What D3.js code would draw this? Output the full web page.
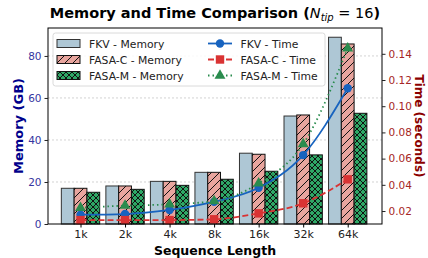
<!DOCTYPE html>
<html>
<head>
<meta charset="utf-8">
<script src="https://cdn.jsdelivr.net/npm/d3@7"></script>
<style>
  body { margin: 0; background: #fff; }
  svg { font-family: "DejaVu Sans", sans-serif; }
</style>
</head>
<body>
<svg id="chart" width="428" height="258"></svg>
<script>
// data
const categories = ["1k", "2k", "4k", "8k", "16k", "32k", "64k"];
const fkvMem   = [17.0, 18.1, 20.3, 24.6, 33.7, 51.4, 88.9];
const fasaCMem = [17.0, 18.1, 20.3, 24.6, 33.2, 51.9, 85.7];
const fasaMMem = [15.1, 16.5, 18.4, 21.3, 25.1, 32.9, 52.7];
const fkvTime   = [0.0172, 0.0177, 0.0208, 0.0271, 0.0378, 0.0627, 0.1137];
const fasaCTime = [0.0131, 0.0131, 0.0131, 0.0137, 0.0182, 0.0259, 0.0442];
const fasaMTime = [0.0225, 0.0241, 0.0251, 0.0276, 0.0411, 0.0711, 0.1442];
const memTicks  = [0, 20, 40, 60, 80];
const timeTicks = [0.02, 0.04, 0.06, 0.08, 0.10, 0.12, 0.14];

const pL = 48, pR = 382, pT = 28, pB = 224;
const svg = d3.select("#chart");

// hatch patterns
const defs = svg.append("defs");
const p1 = defs.append("pattern").attr("id", "hatchC")
  .attr("patternUnits", "userSpaceOnUse").attr("width", 8).attr("height", 8);
p1.append("rect").attr("width", 8).attr("height", 8).attr("fill", "#e8a59e");
p1.append("path").attr("d", "M0,8L8,0M-2,2L2,-2M6,10L10,6")
  .attr("stroke", "#111").attr("stroke-width", 1);
const p2 = defs.append("pattern").attr("id", "hatchM")
  .attr("patternUnits", "userSpaceOnUse").attr("width", 6).attr("height", 6);
p2.append("rect").attr("width", 6).attr("height", 6).attr("fill", "#2ea866");
p2.append("path").attr("d", "M0,6L6,0M-1,1L1,-1M5,7L7,5M0,0L6,6M-1,5L1,7M5,-1L7,1")
  .attr("stroke", "#111").attr("stroke-width", 1);

const x = d3.scaleLinear().domain([-0.73, 6.77]).range([pL, pR]);
const yMem = d3.scaleLinear().domain([0, 93.3]).range([pB, pT]);
const yTime = d3.scaleLinear().domain([0.0101, 0.1597]).range([pB, pT]);
const bw = 0.287;

// grid (memory axis)
svg.append("g").selectAll("line").data(memTicks.slice(1)).join("line")
  .attr("x1", pL).attr("x2", pR)
  .attr("y1", d => yMem(d)).attr("y2", d => yMem(d))
  .attr("stroke", "#c8c8c8").attr("stroke-width", 0.8).attr("stroke-dasharray", "2,2");

// bars
const barSeries = [
  { name: "FKV - Memory", values: fkvMem, fill: "#aec7d5", stroke: "#333", off: -1 },
  { name: "FASA-C - Memory", values: fasaCMem, fill: "url(#hatchC)", stroke: "#111", off: 0 },
  { name: "FASA-M - Memory", values: fasaMMem, fill: "url(#hatchM)", stroke: "#111", off: 1 }
];
barSeries.forEach(s => {
  svg.append("g").selectAll("rect").data(s.values).join("rect")
    .attr("x", (d, i) => x(i + s.off * bw - bw / 2))
    .attr("width", x(bw) - x(0))
    .attr("y", d => yMem(d))
    .attr("height", d => yMem(0) - yMem(d))
    .attr("fill", s.fill).attr("stroke", s.stroke).attr("stroke-width", 1);
});

// time lines
const lineSeries = [
  { name: "FKV - Time", values: fkvTime, color: "#1763bf", dash: null, marker: "circle" },
  { name: "FASA-C - Time", values: fasaCTime, color: "#d93333", dash: "6,3", marker: "square" },
  { name: "FASA-M - Time", values: fasaMTime, color: "#2a8c4e", dash: "1.5,3", marker: "triangle" }
];
function drawMarker(g, type, color) {
  if (type === "circle") g.append("circle").attr("r", 4.2).attr("fill", color);
  else if (type === "square") g.append("rect").attr("x", -4.2).attr("y", -4.2)
    .attr("width", 8.4).attr("height", 8.4).attr("fill", color);
  else g.append("path").attr("d", d3.symbol(d3.symbolTriangle, 52)()).attr("fill", color);
}
lineSeries.forEach(s => {
  const line = d3.line().x((d, i) => x(i)).y(d => yTime(d)).curve(d3.curveMonotoneX);
  svg.append("path").datum(s.values).attr("d", line)
    .attr("fill", "none").attr("stroke", s.color).attr("stroke-width", 1.8)
    .attr("stroke-dasharray", s.dash);
  s.values.forEach((v, i) => {
    const g = svg.append("g").attr("transform", `translate(${x(i)},${yTime(v)})`);
    drawMarker(g, s.marker, s.color);
  });
});

// frame
svg.append("rect").attr("x", pL).attr("y", pT)
  .attr("width", pR - pL).attr("height", pB - pT)
  .attr("fill", "none").attr("stroke", "#000").attr("stroke-width", 1);

// axes
const gx = svg.append("g").attr("transform", `translate(0,${pB})`)
  .call(d3.axisBottom(x).tickValues(d3.range(categories.length))
    .tickFormat(i => categories[i]).tickSize(3.5).tickSizeOuter(0));
const gl = svg.append("g").attr("transform", `translate(${pL},0)`)
  .call(d3.axisLeft(yMem).tickValues(memTicks).tickSize(3.5).tickSizeOuter(0));
const gr = svg.append("g").attr("transform", `translate(${pR},0)`)
  .call(d3.axisRight(yTime).tickValues(timeTicks).tickFormat(d3.format(".2f"))
    .tickSize(3.5).tickSizeOuter(0));
[gx, gl, gr].forEach(g => {
  g.select(".domain").remove();
  g.selectAll("text").style("font-size", "10.5px").style("font-family", "DejaVu Sans");
});
gx.selectAll("text").attr("fill", "#222").style("font-size", "11px");
gl.selectAll("text").attr("fill", "#3535a0");
gl.selectAll("line").attr("stroke", "#222");
gr.selectAll("text").attr("fill", "#a52525");
gr.selectAll("line").attr("stroke", "#222");

// axis titles
svg.append("text").attr("x", (pL + pR) / 2).attr("y", 255)
  .attr("text-anchor", "middle").style("font-size", "12.5px").style("font-weight", "bold")
  .text("Sequence Length");
svg.append("text").attr("transform", `translate(23,${(pT + pB) / 2}) rotate(-90)`)
  .attr("text-anchor", "middle").style("font-size", "13px").style("font-weight", "bold")
  .attr("fill", "#00008b").text("Memory (GB)");
svg.append("text").attr("transform", `translate(415,${(pT + pB) / 2}) rotate(90)`)
  .attr("text-anchor", "middle").style("font-size", "12px").style("font-weight", "bold")
  .attr("fill", "#8b0000").text("Time (seconds)");

// title
const title = svg.append("text").attr("x", (pL + pR) / 2).attr("y", 18)
  .attr("text-anchor", "middle").style("font-size", "14.5px").style("font-weight", "bold");
title.append("tspan").text("Memory and Time Comparison (");
title.append("tspan").style("font-style", "italic").style("font-weight", "normal").text("N");
title.append("tspan").style("font-style", "italic").style("font-weight", "normal")
  .style("font-size", "10px").attr("dy", 3).text("tip");
title.append("tspan").style("font-weight", "normal").attr("dy", -3).text(" = 16");
title.append("tspan").text(")");

// legend
const lg = svg.append("g");
lg.append("rect").attr("x", 53).attr("y", 33).attr("width", 272).attr("height", 53)
  .attr("rx", 2.5).attr("fill", "#fff").attr("fill-opacity", 0.85)
  .attr("stroke", "#d0d0d0").attr("stroke-width", 0.8);
const rowY = [43.5, 59.5, 75.5];
barSeries.forEach((s, i) => {
  lg.append("rect").attr("x", 57).attr("y", rowY[i] - 4).attr("width", 23).attr("height", 8)
    .attr("fill", s.fill).attr("stroke", s.stroke).attr("stroke-width", 1);
  lg.append("text").attr("x", 89).attr("y", rowY[i] + 4).style("font-size", "10.8px")
    .attr("fill", "#222").text(s.name);
});
lineSeries.forEach((s, i) => {
  lg.append("line").attr("x1", 208).attr("x2", 232).attr("y1", rowY[i]).attr("y2", rowY[i])
    .attr("stroke", s.color).attr("stroke-width", 1.8).attr("stroke-dasharray", s.dash);
  const g = lg.append("g").attr("transform", `translate(220,${rowY[i]})`);
  drawMarker(g, s.marker, s.color);
  lg.append("text").attr("x", 240.5).attr("y", rowY[i] + 4).style("font-size", "10.8px")
    .attr("fill", "#222").text(s.name);
});
</script>
</body>
</html>
